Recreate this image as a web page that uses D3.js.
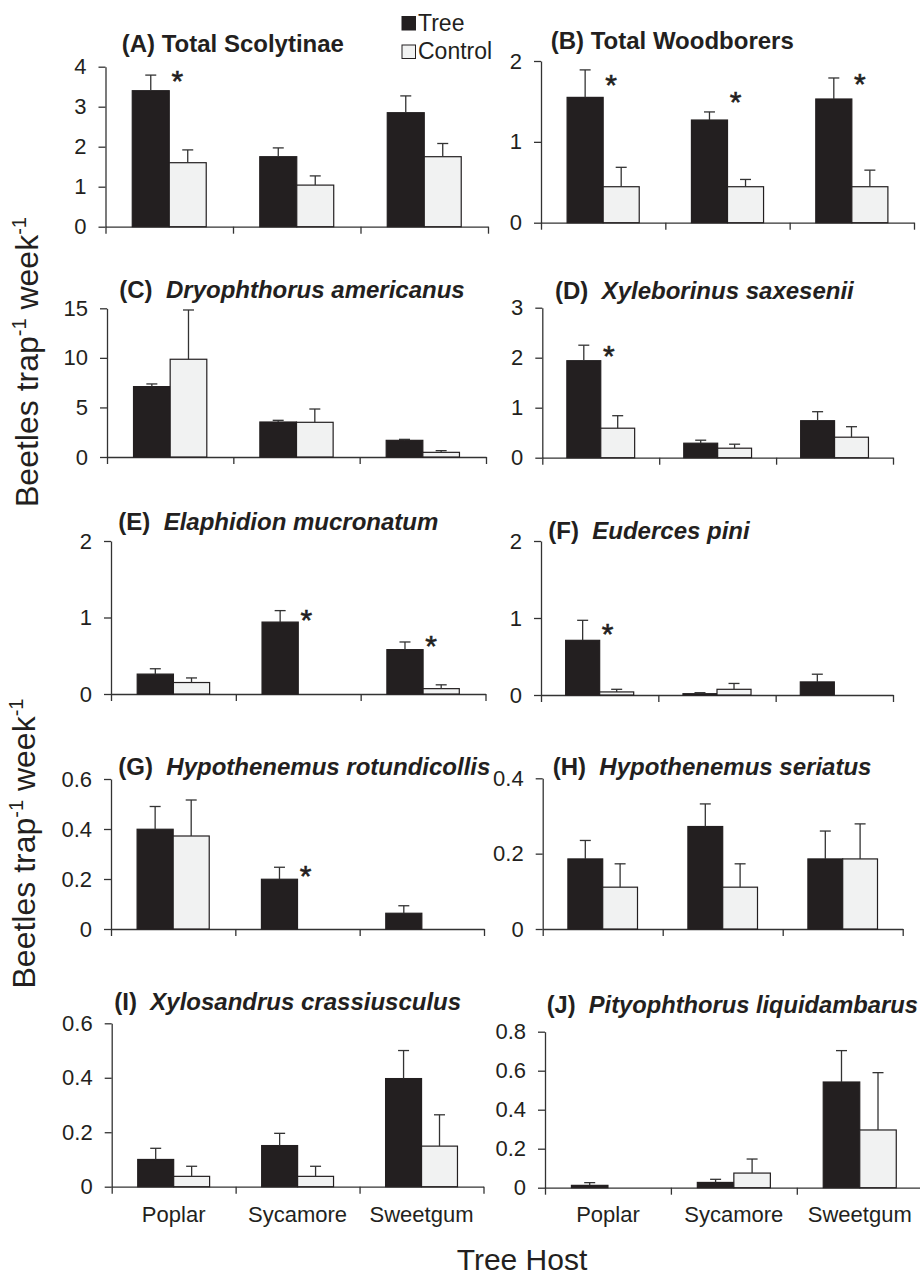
<!DOCTYPE html>
<html>
<head>
<meta charset="utf-8">
<script src="https://cdn.jsdelivr.net/npm/d3@7/dist/d3.min.js"></script>
<style>
  body { margin: 0; background: #fff; }
  text { font-family: "Liberation Sans", Arial, Helvetica, sans-serif; fill: #231f20; }
</style>
</head>
<body>
<script>
// Data
var hosts = ["Poplar", "Sycamore", "Sweetgum"];
var groups = ["Tree", "Control"];

var panelLetters = ["(A)", "(B)", "(C)", "(D)", "(E)", "(F)", "(G)", "(H)", "(I)", "(J)"];
var panelNames = ["Total Scolytinae", "Total Woodborers", "Dryophthorus americanus", "Xyleborinus saxesenii",
                  "Elaphidion mucronatum", "Euderces pini", "Hypothenemus rotundicollis", "Hypothenemus seriatus",
                  "Xylosandrus crassiusculus", "Pityophthorus liquidambarus"];
var nameItalic = [false, false, true, true, true, true, true, true, true, true];

var treeMean = [[3.40, 1.75, 2.85], [1.55, 1.27, 1.53], [7.10, 3.53, 1.68], [1.94, 0.29, 0.74], [0.26, 0.94, 0.58],
                [0.71, 0.017, 0.17], [0.399, 0.199, 0.063], [0.186, 0.272, 0.186], [0.10, 0.151, 0.397], [0.012, 0.027, 0.542]];
var treeSE = [[0.39, 0.22, 0.42], [0.34, 0.10, 0.26], [0.27, 0.17, 0.10], [0.31, 0.06, 0.18], [0.07, 0.15, 0.10],
              [0.26, 0.013, 0.10], [0.091, 0.048, 0.03], [0.049, 0.06, 0.074], [0.041, 0.045, 0.103], [0.014, 0.016, 0.161]];
var controlMean = [[1.60, 1.04, 1.75], [0.445, 0.445, 0.445], [9.86, 3.50, 0.47], [0.59, 0.19, 0.41], [0.15, 0, 0.07],
                   [0.04, 0.074, 0], [0.372, 0, 0], [0.111, 0.111, 0.186], [0.038, 0.038, 0.149], [0, 0.075, 0.296]];
var controlSE = [[0.32, 0.23, 0.33], [0.24, 0.09, 0.205], [4.97, 1.34, 0.17], [0.25, 0.08, 0.21], [0.06, 0, 0.05],
                 [0.034, 0.076, 0], [0.144, 0, 0], [0.062, 0.062, 0.093], [0.037, 0.037, 0.115], [0, 0.072, 0.294]];

var yMax = [4, 2, 15, 3, 2, 2, 0.6, 0.4, 0.6, 0.8];
var yTicks = [[0, 1, 2, 3, 4], [0, 1, 2], [0, 5, 10, 15], [0, 1, 2, 3], [0, 1, 2], [0, 1, 2],
              [0, 0.2, 0.4, 0.6], [0, 0.2, 0.4], [0, 0.2, 0.4, 0.6], [0, 0.2, 0.4, 0.6, 0.8]];

// significance asterisks: [host index, height in data units]
var sigMarks = [[[0, 3.82]], [[0, 1.79], [1, 1.58], [2, 1.80]], [], [[0, 2.17]], [[1, 1.06], [2, 0.715]],
                [[0, 0.887]], [[1, 0.239]], [], [], []];

// Panel placement
var layout = [
  {x0: 105.5, x1: 488,   y0: 226.7,  y1: 66.7,   tx: 121.7, ty: 52},
  {x0: 541,   x1: 914,   y0: 222.7,  y1: 61,     tx: 550.7, ty: 49},
  {x0: 107,   x1: 486,   y0: 457,    y1: 308.3,  tx: 119.3, ty: 298},
  {x0: 542.3, x1: 893,   y0: 457.7,  y1: 307.7,  tx: 555,   ty: 299},
  {x0: 111,   x1: 485.5, y0: 694,    y1: 541,    tx: 118.3, ty: 530},
  {x0: 541,   x1: 893,   y0: 695,    y1: 541,    tx: 548.3, ty: 539},
  {x0: 111,   x1: 484,   y0: 929,    y1: 779,    tx: 118.3, ty: 775},
  {x0: 542.7, x1: 902.7, y0: 929,    y1: 778.3,  tx: 552.7, ty: 775},
  {x0: 111.7, x1: 483.5, y0: 1186.7, y1: 1023.3, tx: 114.3, ty: 1010},
  {x0: 545,   x1: 922.7, y0: 1187.7, y1: 1031.7, tx: 546.7, ty: 1013}
];

var ink = "#231f20";
var colors = {Tree: "#231f20", Control: "#f1f2f2"};

var svg = d3.select("body").append("svg")
  .attr("width", 920)
  .attr("height", 1276);

layout.forEach(function(L, i) {
  var g = svg.append("g");

  var y = d3.scaleLinear().domain([0, yMax[i]]).range([L.y0, L.y1]);
  var x = d3.scaleBand().domain(hosts).range([L.x0, L.x1]).paddingInner(0.42).paddingOuter(0.21);
  var xs = d3.scaleBand().domain(groups).range([0, x.bandwidth()]);
  var xEdge = d3.scaleLinear().domain([0, hosts.length]).range([L.x0, L.x1]);

  // y axis
  var yAxisGroup = g.append("g")
    .attr("transform", "translate(" + L.x0 + ",0)")
    .call(d3.axisLeft(y).tickValues(yTicks[i]).tickSize(7).tickSizeOuter(0).tickPadding(12)
      .tickFormat(function(d) { return d; }));
  yAxisGroup.attr("font-size", 22).attr("font-family", null);

  // x axis (ticks between hosts)
  g.append("g")
    .attr("transform", "translate(0," + L.y0 + ")")
    .call(d3.axisBottom(xEdge).tickValues(d3.range(hosts.length + 1)).tickSize(7).tickSizeOuter(0).tickFormat(""));

  g.selectAll(".domain, .tick line").attr("stroke", "#333").attr("stroke-width", 1.3);
  g.selectAll(".tick text").attr("fill", ink);

  // bars
  var rows = [];
  hosts.forEach(function(h, j) {
    rows.push({host: h, grp: "Tree", v: treeMean[i][j], se: treeSE[i][j]});
    rows.push({host: h, grp: "Control", v: controlMean[i][j], se: controlSE[i][j]});
  });

  g.selectAll(".bar")
    .data(rows)
    .enter()
    .append("rect")
    .attr("class", "bar")
    .attr("x", function(d) { return x(d.host) + xs(d.grp); })
    .attr("width", xs.bandwidth())
    .attr("y", function(d) { return y(d.v); })
    .attr("height", function(d) { return y(0) - y(d.v); })
    .attr("fill", function(d) { return colors[d.grp]; })
    .attr("stroke", ink)
    .attr("stroke-width", 1.2);

  // error bars (upper only)
  var errs = rows.filter(function(d) { return d.se > 0; });
  var cx = function(d) { return x(d.host) + xs(d.grp) + xs.bandwidth() / 2; };
  g.selectAll(".err")
    .data(errs)
    .enter()
    .append("line")
    .attr("class", "err")
    .attr("x1", cx).attr("x2", cx)
    .attr("y1", function(d) { return y(d.v); })
    .attr("y2", function(d) { return y(d.v + d.se); })
    .attr("stroke", "#333").attr("stroke-width", 1.3);
  g.selectAll(".cap")
    .data(errs)
    .enter()
    .append("line")
    .attr("class", "cap")
    .attr("x1", function(d) { return cx(d) - 5.5; })
    .attr("x2", function(d) { return cx(d) + 5.5; })
    .attr("y1", function(d) { return y(d.v + d.se); })
    .attr("y2", function(d) { return y(d.v + d.se); })
    .attr("stroke", "#333").attr("stroke-width", 1.3);

  // asterisks
  g.selectAll(".sig")
    .data(sigMarks[i])
    .enter()
    .append("text")
    .attr("class", "sig")
    .attr("x", function(d) { return x(hosts[d[0]]) + xs.bandwidth() + 8; })
    .attr("y", function(d) { return y(d[1]) + 17; })
    .attr("text-anchor", "middle")
    .attr("font-size", 30)
    .attr("stroke", ink)
    .attr("stroke-width", 0.6)
    .text("*");

  // title
  var t = g.append("text")
    .attr("x", L.tx)
    .attr("y", L.ty)
    .attr("font-size", 24)
    .attr("font-weight", "bold");
  t.append("tspan").text(panelLetters[i] + (nameItalic[i] ? "\u00a0\u00a0" : " "));
  t.append("tspan").attr("font-style", nameItalic[i] ? "italic" : "normal").text(panelNames[i]);
  // keep the title inside the page
  var room = 918 - L.tx;
  var w = t.node().getComputedTextLength();
  if (w > room) t.attr("font-size", 24 * room / w);

  // host labels on bottom row
  if (i >= 8) {
    g.selectAll(".host")
      .data(hosts)
      .enter()
      .append("text")
      .attr("class", "host")
      .attr("x", function(d) { return x(d) + x.bandwidth() / 2; })
      .attr("y", 1222)
      .attr("text-anchor", "middle")
      .attr("font-size", 22)
      .text(function(d) { return d; });
  }
});

// legend
var legend = svg.append("g");
legend.selectAll("rect")
  .data(groups)
  .enter()
  .append("rect")
  .attr("x", 402)
  .attr("y", function(d, k) { return 16.5 + k * 28.5; })
  .attr("width", 13.5)
  .attr("height", 13.5)
  .attr("fill", function(d) { return colors[d]; })
  .attr("stroke", ink)
  .attr("stroke-width", 1);
legend.selectAll("text")
  .data(groups)
  .enter()
  .append("text")
  .attr("x", 418)
  .attr("y", function(d, k) { return 31 + k * 28; })
  .attr("font-size", 23)
  .text(function(d) { return d; });

// y axis labels
[362, 843.5].forEach(function(cy, k) {
  var lab = svg.append("text")
    .attr("transform", "translate(" + (k == 0 ? 38 : 35) + "," + cy + ") rotate(-90)")
    .attr("text-anchor", "middle")
    .attr("font-size", 32);
  lab.append("tspan").text("Beetles trap");
  lab.append("tspan").attr("font-size", 20).attr("dy", -12).text("-1");
  lab.append("tspan").attr("dy", 12).text(" week");
  lab.append("tspan").attr("font-size", 20).attr("dy", -12).text("-1");
});

// x axis title
svg.append("text")
  .attr("x", 522)
  .attr("y", 1270)
  .attr("text-anchor", "middle")
  .attr("font-size", 30)
  .text("Tree Host");
</script>
</body>
</html>
